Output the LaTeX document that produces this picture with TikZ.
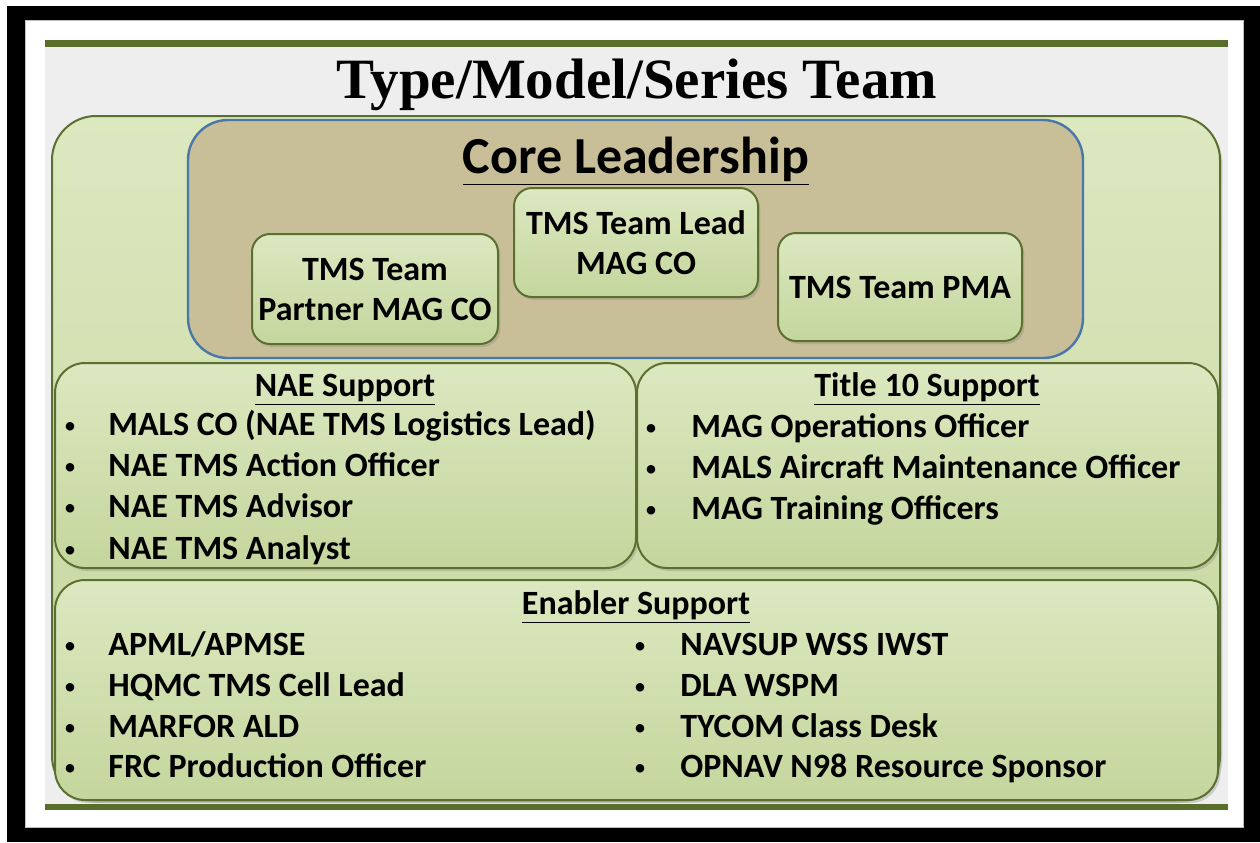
\documentclass[tikz,border=0pt]{standalone}
\usepackage{fontspec}
\setmainfont{Carlito}
\newfontfamily\titlefont{Liberation Serif}
\usetikzlibrary{shadows}
\definecolor{boxgreen}{HTML}{C4D69D}
\definecolor{boxlight}{HTML}{DCE8C0}
\definecolor{boxedge}{HTML}{5B7030}
\definecolor{coretan}{HTML}{C8BF98}
\definecolor{coreblue}{HTML}{4A76A8}
\definecolor{oliveline}{HTML}{5A6E2C}
\definecolor{panelgray}{HTML}{EEEEEE}
\begin{document}
\begin{tikzpicture}[x=0.5pt, y=-0.5pt]
  \tikzstyle{greenbox} = [rectangle, draw=boxedge, line width=1pt, top color=boxlight, middle color=boxgreen, bottom color=boxgreen, rounded corners=15pt, inner sep=2pt, drop shadow={opacity=0.3, shadow xshift=1.2pt, shadow yshift=-1.5pt}]
  \tikzstyle{rolebox} = [greenbox, rounded corners=9pt, text centered, align=center, font=\bfseries\fontsize{17}{20}\selectfont]
  \tikzstyle{heading} = [inner sep=0pt, anchor=base, font=\bfseries\fontsize{17}{20}\selectfont]
  \tikzstyle{dot} = [inner sep=0pt, anchor=base, font=\mdseries\fontsize{12}{14}\selectfont]
  \tikzstyle{item} = [inner sep=0pt, anchor=base west, font=\bfseries\fontsize{17}{20}\selectfont]

  \useasboundingbox (0,0) rectangle (1260,842);
  \fill[white] (0,0) rectangle (1260,842);
  \fill[black] (7,6) rectangle (1260,842);
  \fill[white, draw=gray!50] (25,20) rectangle (1243,827);
  \fill[panelgray] (45,40) rectangle (1228,809);
  \fill[oliveline] (45,40) rectangle (1228,47);
  \fill[oliveline] (45,804) rectangle (1228,810);

  \node[inner sep=0pt, anchor=base, font=\titlefont\bfseries\fontsize{28.5}{34}\selectfont] (title) at (637,98) {Type/Model/Series Team};

  \node[greenbox, rounded corners=22pt, minimum width=584pt, minimum height=342pt] (team) at (636,458) {};
  \node[rectangle, draw=coreblue, line width=1.2pt, fill=coretan, rounded corners=20pt, minimum width=447.5pt, minimum height=119pt] (core) at (635.5,239) {};
  \node[heading, font=\bfseries\fontsize{26}{30}\selectfont] (corehead) at (636,173) {\underline{Core Leadership}};

  \node[rolebox, minimum width=123pt, minimum height=55pt] (partner) at (375,289) {TMS Team\\Partner MAG CO};
  \node[rolebox, minimum width=122pt, minimum height=54.5pt] (lead) at (636,242.5) {TMS Team Lead\\MAG CO};
  \node[rolebox, minimum width=122pt, minimum height=54pt] (pma) at (900,287) {TMS Team PMA};

  \node[greenbox, minimum width=290.5pt, minimum height=102.5pt] (nae) at (345.5,465.5) {};
  \node[greenbox, minimum width=290.5pt, minimum height=102.5pt] (titleten) at (927.5,465.5) {};
  \node[greenbox, minimum width=581.5pt, minimum height=110pt] (enabler) at (636.5,690) {};

  \node[heading] (naehead) at (345,396) {\underline{NAE Support}};
  \node[heading] (titletenhead) at (927,396) {\underline{Title 10 Support}};
  \node[heading] (enablerhead) at (636,614) {\underline{Enabler Support}};

  \foreach \txt [count=\i] in {{MALS CO (NAE TMS Logistics Lead)}, {NAE TMS Action Officer}, {NAE TMS Advisor}, {NAE TMS Analyst}} {
    \node[dot] (naedot\i) at (70,{392+41.3*\i}) {\textbullet};
    \node[item] (nae\i) at (108,{394+41.3*\i}) {\txt};
  }
  \foreach \txt [count=\i] in {{MAG Operations Officer}, {MALS Aircraft Maintenance Officer}, {MAG Training Officers}} {
    \node[dot] (tendot\i) at (651,{394+41*\i}) {\textbullet};
    \node[item] (ten\i) at (691,{396+41*\i}) {\txt};
  }
  \foreach \txt [count=\i] in {{APML/APMSE}, {HQMC TMS Cell Lead}, {MARFOR ALD}, {FRC Production Officer}} {
    \node[dot] (enadot\i) at (70,{613+40.7*\i}) {\textbullet};
    \node[item] (ena\i) at (108,{615+40.7*\i}) {\txt};
  }
  \foreach \txt [count=\i] in {{NAVSUP WSS IWST}, {DLA WSPM}, {TYCOM Class Desk}, {OPNAV N98 Resource Sponsor}} {
    \node[dot] (enbdot\i) at (640,{613+40.7*\i}) {\textbullet};
    \node[item] (enb\i) at (680,{615+40.7*\i}) {\txt};
  }
\end{tikzpicture}
\end{document}
